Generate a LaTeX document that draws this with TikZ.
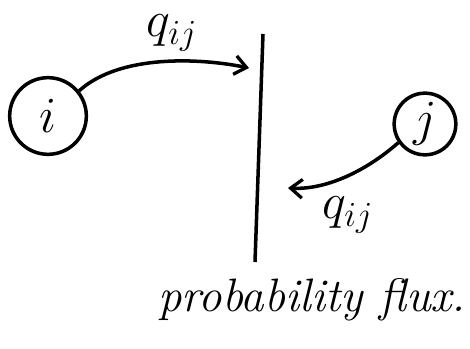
\documentclass[tikz,border=0pt]{standalone}
\usepackage{tikz}
\usetikzlibrary{arrows.meta,positioning}
\usepackage{xcolor}
\definecolor{ink}{HTML}{000000}
\tikzset{
  statecirc/.style={draw=ink, circle, line width=3pt, inner sep=0pt},
  wall/.style={draw=ink, line width=3pt},
  ar/.style={-{Straight Barb[length=10pt, width=16pt, line width=2.8pt]}, line width=3pt, draw=ink},
  lbl/.style={font=\LARGE, scale=2.5, inner sep=0.5pt, color=ink}
}
\begin{document}
\begin{tikzpicture}[x=0.03cm,y=-0.03cm]
  \useasboundingbox (0,0) rectangle (470,349);
  \node[statecirc, minimum size=2.3cm] (i) at (48,116) {};
  \node[statecirc, minimum size=1.85cm] (j) at (425,124) {};
  \node[lbl] at (i) {$i$};
  \node[lbl] at (j) {$j$};
  % the flux wall
  \coordinate (wtop) at (263,34);
  \coordinate (wbot) at (255,262);
  \draw[wall] (wtop) -- (wbot);
  \coordinate (hita) at (249,68);
  \coordinate (hitb) at (288,188);
  \draw[ar] (i.39) .. controls (120,54) and (200,58) .. (hita);
  \draw[ar] (j.215) .. controls (365,172) and (325,190) .. (hitb);
  \node[lbl] (qa) at (172,33) {$q_{ij}$};
  \node[lbl] (qb) at (348,215) {$q_{ij}$};
  \node[font=\fontsize{40}{44}\selectfont\itshape] (cap) at (312,300) {probability flux.};
\end{tikzpicture}
\end{document}
